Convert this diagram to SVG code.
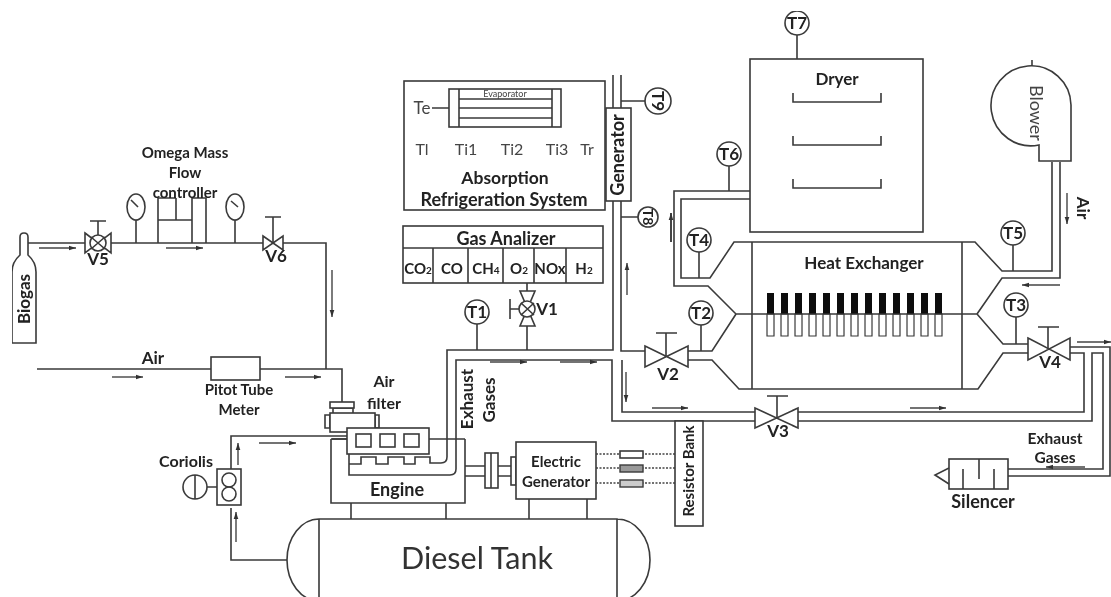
<svg xmlns="http://www.w3.org/2000/svg" width="1111" height="597" viewBox="0 0 1111 597">
<style>
.l{fill:none;stroke:#3a3a3a;stroke-width:1.6}
.n{fill:#fff;stroke:#3a3a3a;stroke-width:1.6}
.a{fill:none;stroke:#444;stroke-width:1.4;marker-end:url(#ah)}
.d{fill:none;stroke:#444;stroke-width:1.4;stroke-dasharray:2 1.5}
text{font-family:Lato,"Liberation Sans",sans-serif;fill:#222;text-anchor:middle}
.b{font-weight:700;font-size:15px}
.t{font-weight:700;font-size:17px}
.r{font-size:16px;fill:#444}
.s{font-size:10px}
</style>
<defs>
<marker id="ah" markerUnits="userSpaceOnUse" markerWidth="8" markerHeight="6" refX="7" refY="3" orient="auto"><path d="M0 .7L7 3L0 5.3z" fill="#333"/></marker>
<filter id="soft" x="0" y="0" width="100%" height="100%"><feGaussianBlur stdDeviation="0.4"/></filter>
</defs>
<rect width="1111" height="597" fill="#fff"/>
<g filter="url(#soft)">
<g id="connectors">
<path class="l" d="M28 243H326V369M37 369H211M260 369H342V402"/>
<path class="l" d="M287 560H231V508M231 469V436H347M332 439H347"/>
<path class="l" d="M136 219V243M235 220V243M158 243V198M192 243V198M206 243V198H192M158 220H192M176 198V220M158 198H176"/>
<path class="l" d="M349 454V464H361V457H376V464H388V457H404V464H415V457H430V463H441Q447 463 447 457V350H613V75M349 462V475H450Q456 475 456 469V360H612V421H755"/>
<path class="l" d="M621 75V351H645M622 360V412H755M798 412H1084V353H1070M798 421H1092V353H1103V469H1008M1070 347H1110V476H1008"/>
<path class="l" d="M621 101H645M621 217H638M477 324V350M527 326V350M527 283V291"/>
<path class="l" d="M688 351H712L736 314L708 286H674V191H750M688 360H712L739 389H978L1003 353H1028M750 199H681V278H710L734 242H975L1002 271H1052V162M1060 162V278H1002L977 314L1003 344H1028M736 314H977"/>
<path class="l" d="M729 166V191M699 252V278M701 325V351M1013 245V271M1016 317V344M797 35V59"/>
<path class="l" d="M465 466H485M465 476H485M498 466H511M498 476H511"/>
<path class="d" d="M596 454H675M596 468H675M596 483H675"/>
<path class="a" d="M39 248H76"/><path class="a" d="M166 248H203"/><path class="a" d="M332 270V317"/>
<path class="a" d="M112 377H143"/><path class="a" d="M285 377H321"/><path class="a" d="M259 443H296"/>
<path class="a" d="M238 465V443"/><path class="a" d="M236 542V512"/>
<path class="a" d="M490 362H527"/><path class="a" d="M560 362H597"/>
<path class="a" d="M627 295V263"/><path class="a" d="M626 372V402"/><path class="a" d="M652 408H688"/><path class="a" d="M910 408H946"/>
<path class="a" style="stroke-width:2" d="M671 242V213"/>
<path class="a" d="M1067 193V224"/><path class="a" d="M1060 285H1022"/><path class="a" d="M1077 342H1111"/><path class="a" d="M1085 467H1046"/>
</g>
<g id="biogas"><path class="n" d="M20 255V237Q20 233 24 233Q28 233 28 237V255Q36 262 36 272V343H12V272Q12 262 20 255z"/><text class="b" style="font-size:17px" transform="translate(30 299) rotate(-90)">Biogas</text></g>
<g id="v5"><path class="n" d="M85 233L111 253V233L85 253z"/><circle class="n" cx="98" cy="243" r="8"/><path class="l" d="M91 237L105 249M105 237L91 249M98 235V221M90 221H106"/><text class="b" x="98" y="265" style="font-size:17px">V5</text></g>
<g id="v6"><path class="n" d="M263 236L283 250V236L263 250z"/><path class="l" d="M273 243V217M265 217H281"/><text class="b" x="276" y="262" style="font-size:17px">V6</text></g>
<g id="gauge1"><ellipse class="n" cx="136" cy="207" rx="9" ry="13"/><path class="l" d="M131 200L138 207"/></g>
<g id="gauge2"><ellipse class="n" cx="235" cy="207" rx="9" ry="13"/><path class="l" d="M231 201L238 207"/></g>
<g id="mass-flow"><text class="b" x="185" y="158">Omega Mass</text><text class="b" x="185" y="178">Flow</text><text class="b" x="185" y="198">controller</text></g>
<g id="pitot"><rect class="n" x="211" y="357" width="49" height="23"/><text class="b" x="239" y="395">Pitot Tube</text><text class="b" x="239" y="415">Meter</text></g>
<text class="b" x="153" y="364" style="font-size:17px">Air</text>
<g id="air-filter"><path class="n" d="M325 415H330V428H325zM375 415H379V428H375z"/><rect class="n" x="333" y="408" width="20" height="6"/><rect class="n" x="330" y="402" width="24" height="6"/><rect class="n" x="330" y="413" width="45" height="19"/><text class="b" x="384" y="387" style="font-size:16px">Air</text><text class="b" x="384" y="409" style="font-size:16px">filter</text></g>
<g id="coriolis"><rect class="n" x="217" y="469" width="24" height="36"/><circle class="l" cx="229" cy="480" r="7"/><circle class="l" cx="229" cy="494" r="7"/><circle class="n" cx="195" cy="487" r="12"/><path class="l" d="M195 475V499M207 487H217"/><text class="b" x="186" y="467" style="font-size:16px">Coriolis</text></g>
<g id="engine"><path class="l" d="M331 439V503H465V439M331 439H347M429 439H465"/><rect class="n" x="347" y="428" width="82" height="26"/><rect class="n" x="356" y="434" width="15" height="13"/><rect class="n" x="380" y="434" width="15" height="13"/><rect class="n" x="404" y="434" width="15" height="13"/><path class="l" d="M351 503V519M446 503V519"/><text class="b" x="397" y="496" style="font-size:18px">Engine</text></g>
<text class="b" style="font-size:17px" transform="translate(473 399) rotate(-90)">Exhaust</text>
<text class="b" style="font-size:17px" transform="translate(495 400) rotate(-90)">Gases</text>
<g id="electric-generator"><rect class="n" x="485" y="453" width="13" height="35"/><path class="l" d="M491 453V488"/><rect class="n" x="511" y="457" width="5" height="28"/><rect class="n" x="516" y="442" width="80" height="57"/><path class="l" d="M529 499V519M587 499V519"/><text class="b" x="556" y="467">Electric</text><text class="b" x="556" y="487">Generator</text></g>
<g id="resistors"><rect class="n" x="620" y="451" width="23" height="7"/><rect x="620" y="465" width="23" height="7" fill="#999" stroke="#3a3a3a" stroke-width="1.4"/><rect x="620" y="480" width="23" height="7" fill="#ccc" stroke="#3a3a3a" stroke-width="1.4"/></g>
<g id="resistor-bank"><rect class="n" x="675" y="421" width="28" height="105"/><text class="b" transform="translate(694 471) rotate(-90)">Resistor Bank</text></g>
<g id="tank"><path class="l" d="M319 519H617V600M319 519V600M319 519A32 41 0 0 0 287 560A32 41 0 0 0 319 601M617 519A33 41 0 0 1 650 560A33 41 0 0 1 617 601"/><text x="477" y="569" style="font-size:30.5px;fill:#333">Diesel Tank</text></g>
<g id="absorption"><rect class="n" x="404" y="81" width="201" height="129"/><rect class="n" x="449" y="89" width="112" height="38"/><path class="l" d="M459 89V127M552 89V127M459 99H552M459 108H552M459 118H552M432 108H449"/><text x="505" y="97" style="font-size:9px;fill:#444">Evaporator</text><text class="r" x="422" y="114" style="font-size:17px">Te</text><text class="r" x="422" y="155">Tl</text><text class="r" x="466" y="155">Ti1</text><text class="r" x="512" y="155">Ti2</text><text class="r" x="557" y="155">Ti3</text><text class="r" x="587" y="155">Tr</text><text class="b" x="505" y="184" style="font-size:17.5px">Absorption</text><text class="b" x="504" y="206" style="font-size:18px">Refrigeration System</text></g>
<g id="generator"><rect class="n" x="606" y="108" width="25" height="93"/><text class="b" style="font-size:18px" transform="translate(624 155) rotate(-90)">Generator</text></g>
<g id="t9"><circle class="n" cx="658" cy="101" r="13"/><text class="t" transform="translate(652 101) rotate(90)">T9</text></g>
<g id="t8"><circle class="n" cx="648" cy="217" r="10"/><text class="t" style="font-size:14px" transform="translate(643 217) rotate(90)">T8</text></g>
<g id="gas-analizer"><rect class="n" x="403" y="226" width="200" height="57"/><path class="l" d="M403 248H603M433 248V283M468 248V283M503 248V283M534 248V283M566 248V283"/><text class="b" x="506" y="245" style="font-size:18px">Gas Analizer</text><text class="b" x="418" y="274">CO<tspan class="s">2</tspan></text><text class="b" x="452" y="274">CO</text><text class="b" x="486" y="274">CH<tspan class="s">4</tspan></text><text class="b" x="519" y="274">O<tspan class="s">2</tspan></text><text class="b" x="550" y="274">NOx</text><text class="b" x="584" y="274">H<tspan class="s">2</tspan></text></g>
<g id="v1"><path class="n" d="M520 291H535L520 326H535z"/><circle class="n" cx="527" cy="309" r="8"/><path class="l" d="M521 303L534 315M534 303L521 315M510 299V319M510 309H519"/><text class="b" x="547" y="315" style="font-size:17px">V1</text></g>
<g id="t1"><circle class="n" cx="477" cy="312" r="12"/><text class="t" x="477" y="318">T1</text></g>
<g id="v2"><path class="n" d="M645 346L688 367V346L645 367z"/><path class="l" d="M666 356V333M656 333H677"/><text class="b" x="668" y="380" style="font-size:17px">V2</text></g>
<g id="v3"><path class="n" d="M755 408L798 428V408L755 428z"/><path class="l" d="M777 417V396M767 396H788"/><text class="b" x="778" y="437" style="font-size:17px">V3</text></g>
<g id="v4"><path class="n" d="M1028 338L1070 360V338L1028 360z"/><path class="l" d="M1048 348V327M1038 327H1059"/><text class="b" x="1050" y="368" style="font-size:17px">V4</text></g>
<g id="dryer"><rect class="n" x="750" y="59" width="173" height="173"/><path class="l" d="M793 93V102H881V93M793 136V145H881V136M793 179V188H881V179"/><text class="b" x="837" y="85" style="font-size:17px">Dryer</text></g>
<g id="t7"><circle class="n" cx="797" cy="23" r="12"/><text class="t" x="797" y="29">T7</text></g>
<g id="t6"><circle class="n" cx="729" cy="154" r="12"/><text class="t" x="729" y="160">T6</text></g>
<g id="t4"><circle class="n" cx="699" cy="240" r="12"/><text class="t" x="699" y="246">T4</text></g>
<g id="t2"><circle class="n" cx="701" cy="313" r="12"/><text class="t" x="701" y="319">T2</text></g>
<g id="t5"><circle class="n" cx="1013" cy="233" r="12"/><text class="t" x="1013" y="239">T5</text></g>
<g id="t3"><circle class="n" cx="1016" cy="305" r="12"/><text class="t" x="1016" y="311">T3</text></g>
<g id="heat-exchanger"><path class="l" d="M752 242V389M962 242V389"/>
<path d="M767 293h7v21h-7zM781 293h7v21h-7zM795 293h7v21h-7zM809 293h7v21h-7zM823 293h7v21h-7zM837 293h7v21h-7zM851 293h7v21h-7zM865 293h7v21h-7zM879 293h7v21h-7zM893 293h7v21h-7zM907 293h7v21h-7zM921 293h7v21h-7zM935 293h7v21h-7z" fill="#111"/>
<path class="l" style="stroke-width:1.2" d="M767 314h7v22h-7zM781 314h7v22h-7zM795 314h7v22h-7zM809 314h7v22h-7zM823 314h7v22h-7zM837 314h7v22h-7zM851 314h7v22h-7zM865 314h7v22h-7zM879 314h7v22h-7zM893 314h7v22h-7zM907 314h7v22h-7zM921 314h7v22h-7zM935 314h7v22h-7z"/>
<text class="b" x="864" y="269" style="font-size:17px">Heat Exchanger</text></g>
<g id="blower"><path class="n" d="M1039 145A40 40 0 1 1 1071 105V161H1039z"/><path class="l" d="M1032 60V66"/><text style="font-size:18px;fill:#444" transform="translate(1030 113) rotate(90)">Blower</text></g>
<text class="b" transform="translate(1077 208) rotate(90)" style="font-size:17px">Air</text>
<g id="silencer"><rect class="n" x="949" y="459" width="59" height="30"/><path class="l" d="M963 469V489M979 459V479M994 469V489M949 468L935 475L949 484"/><text class="b" x="983" y="508" style="font-size:18px">Silencer</text></g>
<text class="b" x="1055" y="444" style="font-size:15.5px">Exhaust</text>
<text class="b" x="1055" y="463" style="font-size:15.5px">Gases</text>
</g>
</svg>
